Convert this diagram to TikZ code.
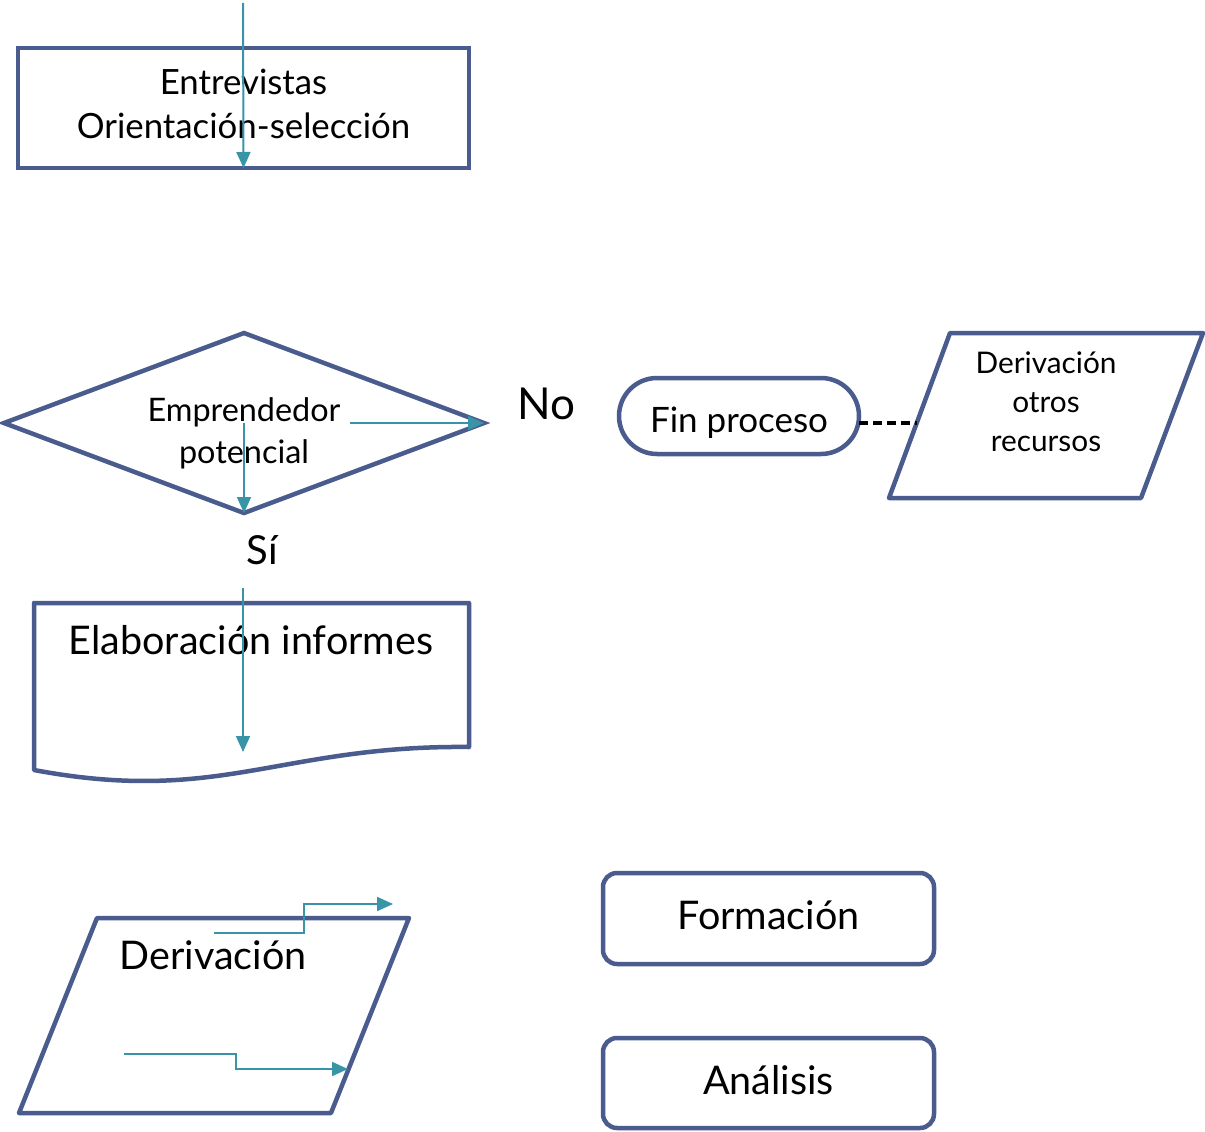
\documentclass[tikz,border=0pt]{standalone}
\usepackage{fontspec}
\setmainfont{Lato}
\usetikzlibrary{arrows.meta,positioning,shapes.geometric}
\definecolor{shapeblue}{RGB}{74,91,142}
\definecolor{flowteal}{RGB}{57,148,168}

\begin{document}
\begin{tikzpicture}[x=1pt,y=-1pt,
  box/.style={draw=shapeblue,line width=4.5pt,align=center,inner sep=0pt,outer sep=0pt},
  flow/.style={draw=flowteal,line width=2pt,-{Triangle[length=16pt,width=14pt]}},
  dashline/.style={draw=black,line width=4pt,dash pattern=on 9pt off 5pt},
  big/.style={font=\fontsize{39.5}{44}\selectfont},
  mid/.style={font=\fontsize{34.8}{44}\selectfont},
  small/.style={font=\fontsize{32.4}{42}\selectfont}]

  \useasboundingbox (0,0) rectangle (1205,1132);

  \node[box,minimum width=451,minimum height=120,
    label={[mid,align=center,yshift=4pt]center:Entrevistas\\Orientación-selección}] (1) at (243.5,108) {};
  \node[box,shape=diamond,minimum width=480,minimum height=180,aspect=2.67,
    label={[small,align=center,yshift=-10pt]center:Emprendedor\\potencial}] (2) at (244,423) {};
  \node[box,font=\fontsize{35}{44}\selectfont,minimum width=240,minimum height=76,rounded corners=38] (3) at (739,416)
    {\raisebox{-7pt}[\height][\depth]{Fin proceso}};
  \node[font=\fontsize{44}{50}\selectfont] (9) at (546,404) {No};
  \node[font=\fontsize{40}{46}\selectfont] (10) at (262,550) {Sí};

  % derivacion otros recursos
  \draw[shapeblue,line width=4.5pt,line join=round] (950,333) -- (1203,333) -- (1141,498) -- (889,498) -- cycle;
  \node[align=center,font=\fontsize{29.8}{39}\selectfont] (4) at (1046,402) {Derivación\\otros\\recursos};

  % documento
  \draw[shapeblue,line width=4.5pt,line join=round] (34,603) -- (469,603) -- (469,747)
    .. controls (280,745) and (220,805) .. (34,770) -- cycle;
  \node[big] (5) at (251,640) {Elaboración informes};

  % derivacion
  \draw[shapeblue,line width=4.5pt,line join=round] (97,918) -- (409,918) -- (331,1113) -- (19,1113) -- cycle;
  \node[big] (6) at (213,955) {Derivación};

  \node[box,big,minimum width=331,minimum height=91,rounded corners=14] (7) at (768.5,918.5)
    {\raisebox{3pt}[\height][\depth]{Formación}};
  \node[box,big,minimum width=331,minimum height=90,rounded corners=14] (8) [below=74pt of 7]
    {\raisebox{3pt}[\height][\depth]{Análisis}};

  \coordinate (a) at (243,3);
  \coordinate (b) at (350,423);
  \coordinate (c) at (243,588);
  \coordinate (d) at (243,752);
  \coordinate (e) at (214,933);
  \coordinate (f) at (393,904);
  \coordinate (g) at (124,1054);
  \coordinate (h) at (348,1069);
  \coordinate (p) at (917,423);

  \draw[flow] (a) -- (1.south);
  \draw[flow] (2.center) -- (2.south);
  \draw[flow] (b) -- (2.east);
  \draw[flow] (c) -- (d);
  \draw[flow] (e) -- ++(90,0) |- (f);
  \draw[flow] (g) -- ++(112,0) |- (h);
  \draw[dashline] (3.east |- p) -- (p);

\end{tikzpicture}
\end{document}
